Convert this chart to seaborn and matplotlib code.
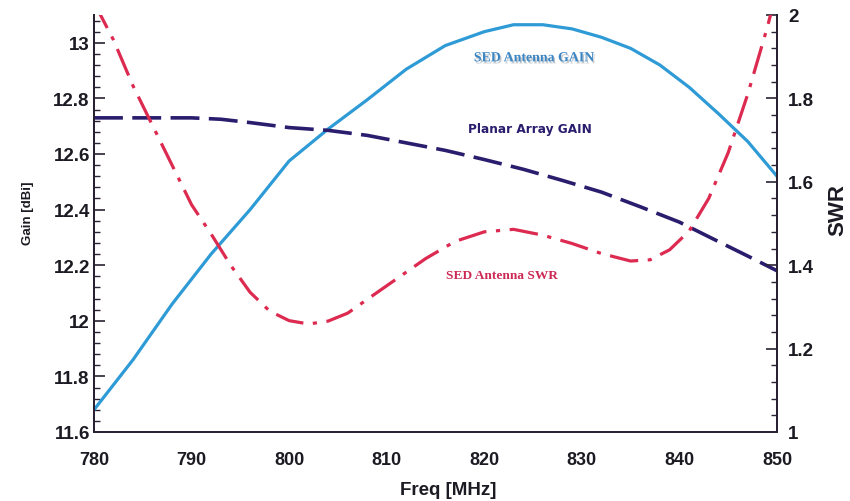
"""
Gain / SWR vs frequency: SED antenna vs planar array
"""
import numpy as np
import pandas as pd
import matplotlib
matplotlib.use("Agg")
import matplotlib.pyplot as plt
import matplotlib.patheffects as pe
from matplotlib.ticker import MultipleLocator, FixedLocator
import seaborn as sns

# ── data ─────────────────────────────────────────────────────────────────────
freq_sed = [780, 784, 788, 792, 796, 800, 804, 808, 812, 816, 820, 823, 826,
            829, 832, 835, 838, 841, 844, 847, 850]
gain_sed = [11.68, 11.86, 12.06, 12.24, 12.40, 12.575, 12.69, 12.795, 12.905,
            12.99, 13.04, 13.065, 13.065, 13.05, 13.02, 12.98, 12.92, 12.84,
            12.745, 12.645, 12.52]

freq_planar = [780, 785, 790, 793, 796, 800, 804, 808, 812, 816, 820, 824,
               828, 832, 836, 840, 844, 847, 850]
gain_planar = [12.73, 12.73, 12.73, 12.725, 12.713, 12.695, 12.685, 12.667,
               12.64, 12.613, 12.58, 12.545, 12.505, 12.463, 12.41, 12.355,
               12.285, 12.233, 12.18]

freq_swr = [780, 782, 784, 786, 788, 790, 792, 794, 796, 798, 800, 802, 804,
            806, 808, 811, 814, 817, 820, 823, 826, 829, 832, 835, 837, 839,
            841, 843, 845, 847, 849, 850]
swr_sed = [2.03, 1.94, 1.83, 1.735, 1.64, 1.545, 1.475, 1.40, 1.335, 1.29,
           1.267, 1.259, 1.266, 1.285, 1.318, 1.367, 1.416, 1.457, 1.48,
           1.486, 1.472, 1.452, 1.428, 1.41, 1.413, 1.437, 1.482, 1.56, 1.67,
           1.81, 1.97, 2.06]

gain_ticks = [11.6, 11.8, 12.0, 12.2, 12.4, 12.6, 12.8, 13.0]
gain_ticklabels = ["11.6", "11.8", "12", "12.2", "12.4", "12.6", "12.8", "13"]
swr_ticks = [1.0, 1.2, 1.4, 1.6, 1.8, 2.0]
swr_ticklabels = ["1", "1.2", "1.4", "1.6", "1.8", "2"]
freq_ticks = [780, 790, 800, 810, 820, 830, 840, 850]

c_sed = "#2f9bd6"
c_planar = "#2a1d6e"
c_swr = "#dc2a50"
c_axis = "#2a2233"
c_text = "#1c1a22"

sns.set_style("white")
plt.rcParams["font.family"] = ["Liberation Sans", "DejaVu Sans"]

df_sed = pd.DataFrame({"freq": freq_sed, "gain": gain_sed})
df_planar = pd.DataFrame({"freq": freq_planar, "gain": gain_planar})
df_swr = pd.DataFrame({"freq": freq_swr, "swr": swr_sed})

fig = plt.figure(figsize=(8.5, 5.02), dpi=100)
ax = fig.add_axes([94 / 850, 1 - 433 / 502, 683 / 850, 417 / 502])
ax2 = ax.twinx()

sns.lineplot(data=df_sed, x="freq", y="gain", ax=ax, color=c_sed, lw=2.3)
sns.lineplot(data=df_planar, x="freq", y="gain", ax=ax, color=c_planar, lw=2.6)
ax.lines[-1].set_dashes((8, 2.6))
ax.lines[-1].set_dash_capstyle("butt")
sns.lineplot(data=df_swr, x="freq", y="swr", ax=ax2, color=c_swr, lw=2.3)
ax2.lines[-1].set_dashes((9, 3, 1.3, 3))

ax.set_xlim(780, 850)
ax.set_ylim(11.6, 13.1)
ax2.set_ylim(1.0, 2.0)

ax.xaxis.set_major_locator(FixedLocator(freq_ticks))
ax.xaxis.set_minor_locator(MultipleLocator(2))
ax.yaxis.set_major_locator(FixedLocator(gain_ticks))
ax.yaxis.set_minor_locator(MultipleLocator(0.04))
ax.set_yticklabels(gain_ticklabels)
ax2.yaxis.set_major_locator(FixedLocator(swr_ticks))
ax2.yaxis.set_minor_locator(MultipleLocator(0.04))
ax2.set_yticklabels(swr_ticklabels)

for a in (ax, ax2):
    for side in ["left", "right", "bottom"]:
        a.spines[side].set_visible(True)
        a.spines[side].set_color(c_axis)
        a.spines[side].set_linewidth(1.4)
    a.spines["top"].set_visible(False)

ax.tick_params(axis="both", which="major", direction="in", length=8,
               width=1.2, color=c_axis)
ax.tick_params(axis="both", which="minor", direction="in", length=4,
               width=1.0, color=c_axis)
ax.tick_params(axis="x", labelsize=13, pad=14)
ax.tick_params(axis="y", labelsize=13.5, pad=3, left=True, right=False)
ax2.tick_params(axis="y", which="major", direction="in", length=8,
                width=1.2, color=c_axis, labelsize=13.5, pad=8, right=True)
ax2.tick_params(axis="y", which="minor", direction="in", length=4,
                width=1.0, color=c_axis, right=True)
for lab in ax.get_xticklabels() + ax.get_yticklabels() + ax2.get_yticklabels():
    lab.set_fontweight("bold")
    lab.set_color(c_text)

ax.set_xlabel("Freq [MHz]", fontsize=13.5, fontweight="bold", color=c_text,
              ha="center", va="center")
ax.xaxis.set_label_coords(0.518, -0.139)
ax.set_ylabel("Gain [dBi]", fontsize=9.5, fontweight="bold", color=c_text,
              ha="center", va="center")
ax.yaxis.set_label_coords(-0.097, 0.528)
ax2.set_ylabel("SWR", fontsize=16, fontweight="bold", color=c_text,
               ha="center", va="center")
ax2.yaxis.set_label_coords(1.089, 0.535)

# curve labels
ax.text(825.1, 12.946, "SED Antenna GAIN", ha="center", va="center",
        fontsize=10, fontweight="bold", family="Liberation Serif",
        color="#3b86c4",
        path_effects=[pe.SimplePatchShadow(offset=(1, -1.5), alpha=0.25),
                      pe.Normal()])
ax.text(824.7, 12.692, "Planar Array GAIN", ha="center", va="center",
        fontsize=8.7, fontweight="bold", family="DejaVu Sans", color=c_planar)
ax2.text(821.8, 1.376, "SED Antenna SWR", ha="center", va="center",
         fontsize=9.6, fontweight="bold", family="Liberation Serif",
         color="#cc2a55")

fig.savefig("out.png", dpi=100)
plt.close()
